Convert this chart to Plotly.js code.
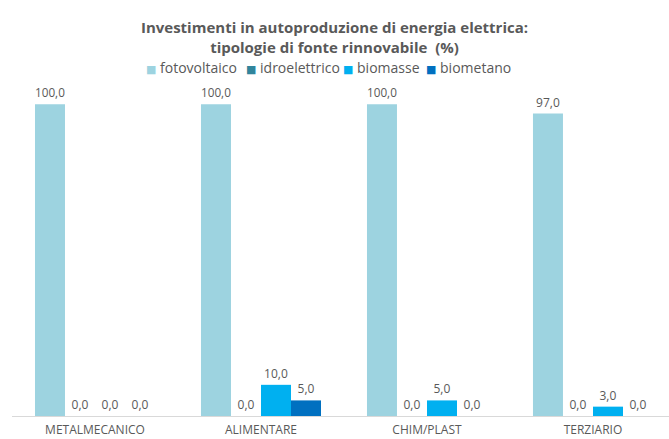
<!DOCTYPE html>
<html>
<head>
<meta charset="utf-8">
<script src="https://cdn.plot.ly/plotly-3.0.1.min.js"></script>
<style>html,body{margin:0;padding:0;background:#fff;}#chart{width:669px;height:439px;}</style>
</head>
<body>
<div id="chart"></div>
<script>
var categories = ["METALMECANICO", "ALIMENTARE", "CHIM/PLAST", "TERZIARIO"];
var seriesNames = ["fotovoltaico", "idroelettrico", "biomasse", "biometano"];
var fotovoltaico = [100, 100, 100, 97];
var idroelettrico = [0, 0, 0, 0];
var biomasse = [0, 10, 5, 3];
var biometano = [0, 5, 0, 0];
var colors = ["#9DD3E0", "#31859C", "#00B0F0", "#0070C0"];

var values = [fotovoltaico, idroelettrico, biomasse, biometano];
var FONT = "'Open Sans', sans-serif";
var traces = values.map(function (v, i) {
  return {
    type: "bar",
    name: seriesNames[i],
    x: categories,
    y: v,
    marker: {color: colors[i]},
    texttemplate: "%{y:.1f}",
    textposition: "outside",
    textfont: {size: 12, color: "#595959", family: FONT},
    cliponaxis: false,
    showlegend: false,
    hoverinfo: "none"
  };
});

// legend drawn as a row of annotations (tight spacing like the original)
var legendLeftPx = [144, 244, 341, 424];
var legendAnn = seriesNames.map(function (n, i) {
  return {
    text: '<span style="color:' + colors[i] + ';font-family:DejaVu Sans;font-size:11px">■</span> ' + n,
    xref: "paper", yref: "paper",
    x: (legendLeftPx[i] - 12) / 657, xanchor: "left",
    y: (416 - 67) / 386, yanchor: "middle",
    showarrow: false,
    font: {size: 14, color: "#595959", family: FONT}
  };
});

// plot paper spans y = 30..416 px; y-axis domain top at 73 px
var layout = {
  width: 669, height: 439,
  margin: {l: 12, r: 0, t: 30, b: 23, pad: 0},
  separators: ",.",
  font: {family: FONT, color: "#595959"},
  paper_bgcolor: "#fff", plot_bgcolor: "#fff",
  title: {
    text: "<b>Investimenti in autoproduzione di energia elettrica:<br>tipologie di fonte rinnovabile  (%)</b>",
    font: {size: 15, color: "#595959", family: FONT},
    x: 0.5, xref: "container", xanchor: "center",
    y: 1 - 33 / 439, yref: "container", yanchor: "middle"
  },
  showlegend: false,
  annotations: legendAnn,
  barmode: "group",
  bargap: 0.277,
  bargroupgap: 0,
  xaxis: {
    type: "category",
    range: [-0.5, 3.458],
    showline: true, linecolor: "#D9D9D9", linewidth: 1,
    ticks: "", showgrid: false, zeroline: false,
    ticklabelstandoff: 3,
    tickfont: {size: 12, color: "#595959", family: FONT}
  },
  yaxis: {
    domain: [0, (416 - 73) / 386],
    range: [0, 110],
    visible: false, showgrid: false, zeroline: false
  }
};

Plotly.newPlot("chart", traces, layout, {displayModeBar: false, staticPlot: true});
</script>
</body>
</html>
